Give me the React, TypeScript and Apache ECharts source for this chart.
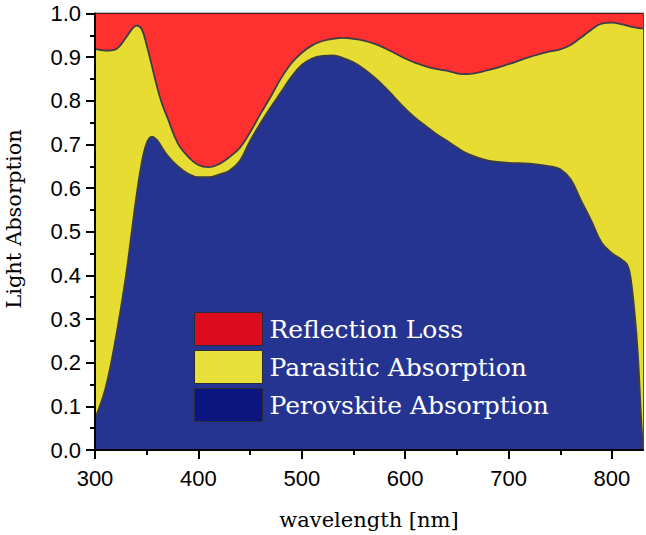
import React, { useEffect, useRef } from "react";
import * as echarts from "echarts";

const wavelength = [300,310,320,330,335,340,345,350,355,360,365,370,380,390,400,410,420,430,440,450,460,470,480,490,500,510,520,530,540,550,560,570,580,590,600,610,620,630,640,650,660,680,700,720,740,750,760,770,780,790,800,810,815,818,822,825,828,830];

const perovskiteAbs = [0.072,0.14,0.255,0.40,0.49,0.58,0.655,0.703,0.718,0.71,0.692,0.675,0.65,0.633,0.625,0.625,0.631,0.64,0.662,0.708,0.748,0.785,0.82,0.855,0.882,0.897,0.903,0.904,0.898,0.888,0.873,0.854,0.832,0.807,0.782,0.76,0.742,0.724,0.709,0.693,0.679,0.663,0.658,0.656,0.65,0.643,0.62,0.572,0.525,0.475,0.451,0.435,0.423,0.395,0.31,0.22,0.08,0.0];

// total absorbed = perovskite + parasitic (top edge of the yellow band)
const totalAbs = [0.919,0.915,0.918,0.945,0.962,0.972,0.965,0.927,0.88,0.832,0.792,0.762,0.703,0.672,0.653,0.648,0.655,0.671,0.692,0.728,0.77,0.81,0.852,0.886,0.91,0.927,0.937,0.942,0.944,0.942,0.938,0.931,0.921,0.909,0.897,0.887,0.879,0.873,0.869,0.863,0.861,0.87,0.884,0.9,0.913,0.918,0.928,0.945,0.963,0.977,0.979,0.975,0.972,0.97,0.968,0.967,0.966,0.966];

const xMajorTicks = [300, 400, 500, 600, 700, 800];
const xMinorTicks = [350, 450, 550, 650, 750];
const legendNames = ["Reflection Loss", "Parasitic Absorption", "Perovskite Absorption"];

export default function App() {
  const ref = useRef<HTMLDivElement>(null);
  useEffect(() => {
    if (!ref.current) return;
    const chart = echarts.init(ref.current, null, { renderer: "svg" });
    const lineColor = "#3b3d48";
    const pair = (vals: number[]) => wavelength.map((w, i) => [w, vals[i]]);
    chart.setOption({
      animation: false,
      grid: {
        left: 95, right: 3, top: 13.5, bottom: 80.5,
        show: true, borderColor: "#111", borderWidth: 1.5, backgroundColor: "transparent",
      },
      xAxis: [
        {
          type: "value", min: 300, max: 830,
          axisLine: { show: true, lineStyle: { color: "#000", width: 2 } },
          axisTick: { show: true, inside: false, length: 9, lineStyle: { color: "#000", width: 2 }, customValues: xMajorTicks },
          axisLabel: { customValues: xMajorTicks, color: "#000", fontFamily: "Liberation Sans", fontSize: 22, margin: 17 },
          splitLine: { show: false },
          name: "wavelength [nm]", nameLocation: "middle", nameGap: 59,
          nameTextStyle: { fontFamily: "DejaVu Serif", fontSize: 21, color: "#000" },
          z: 10,
        },
        {
          type: "value", min: 300, max: 830, position: "bottom",
          axisLine: { show: false },
          axisTick: { show: true, length: 5, lineStyle: { color: "#000", width: 2 }, customValues: xMinorTicks },
          axisLabel: { show: false },
          splitLine: { show: false },
          z: 10,
        },
      ],
      yAxis: {
        type: "value", min: 0, max: 1, interval: 0.1,
        axisLine: { show: true, lineStyle: { color: "#000", width: 2 } },
        axisTick: { show: true, length: 9, lineStyle: { color: "#000", width: 2 } },
        minorTick: { show: true, splitNumber: 2, length: 5, lineStyle: { color: "#000", width: 2 } },
        axisLabel: { color: "#000", fontFamily: "Liberation Sans", fontSize: 22, margin: 14, formatter: (v: number) => v.toFixed(1) },
        splitLine: { show: false },
        minorSplitLine: { show: false },
        z: 10,
      },
      legend: {
        orient: "vertical", left: 194, top: 312, padding: 0,
        itemWidth: 68, itemHeight: 33, itemGap: 4,
        icon: "rect",
        textStyle: { color: "#fff", fontFamily: "DejaVu Serif", fontSize: 25, padding: [0, 0, 0, 2] },
        selectedMode: false,
        data: [
          { name: legendNames[0], itemStyle: { color: "#dc0b1e", borderColor: "#2a2a3a", borderWidth: 1 } },
          { name: legendNames[1], itemStyle: { color: "#e8e03a", borderColor: "#2a2a3a", borderWidth: 1 } },
          { name: legendNames[2], itemStyle: { color: "#0b1680", borderColor: "#2a2a3a", borderWidth: 1 } },
        ],
      },
      graphic: [
        {
          type: "text", x: 14, y: 219, rotation: Math.PI / 2,
          style: { text: "Light Absorption", fontFamily: "DejaVu Serif", fontSize: 21, fill: "#000", align: "center", verticalAlign: "middle" },
        },
      ],
      series: [
        {
          name: legendNames[0], type: "line", data: pair(totalAbs), smooth: 0.4, showSymbol: false,
          lineStyle: { width: 0 }, itemStyle: { color: "#ff3030" },
          areaStyle: { color: "#ff3030", opacity: 1, origin: "end" }, z: 1,
        },
        {
          name: legendNames[1], type: "line", data: pair(totalAbs), smooth: 0.4, showSymbol: false,
          lineStyle: { width: 1.8, color: lineColor }, itemStyle: { color: "#e6dc32" },
          areaStyle: { color: "#e6dc32", opacity: 1, origin: "start" }, z: 2,
        },
        {
          name: legendNames[2], type: "line", data: pair(perovskiteAbs), smooth: 0.4, showSymbol: false,
          lineStyle: { width: 1.8, color: lineColor }, itemStyle: { color: "#263491" },
          areaStyle: { color: "#263491", opacity: 1, origin: "start" }, z: 3,
        },
      ],
    });
    return () => chart.dispose();
  }, []);
  return <div ref={ref} style={{ width: 646, height: 535, position: "absolute", left: 0, top: 0 }} />;
}
